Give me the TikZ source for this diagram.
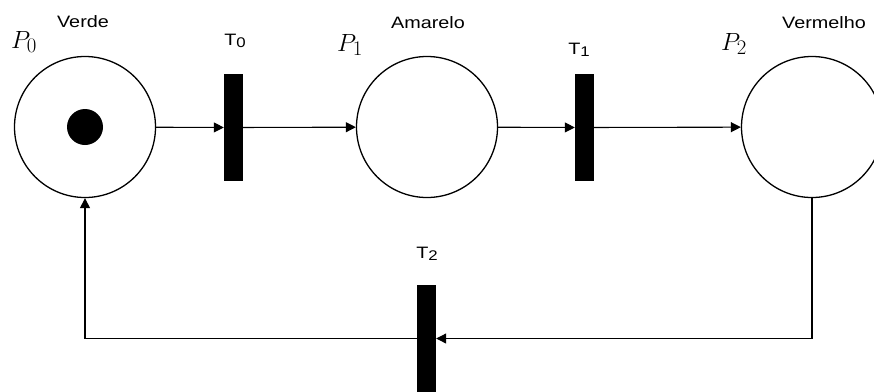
\documentclass[tikz,border=0pt]{standalone}
\usepackage{fontspec}
\newfontfamily\lblfont[FakeStretch=1.2]{Liberation Sans}
\usetikzlibrary{arrows.meta}
\tikzset{
  place/.style={circle,draw,line width=1.3pt,minimum size=141pt,inner sep=0pt},
  trans/.style={rectangle,fill=black,minimum width=19pt,minimum height=107pt,inner sep=0pt},
  arr/.style={line width=1.1pt,-{Triangle[length=10pt,width=10pt]}},
  txtlbl/.style={inner sep=0pt,anchor=base,font=\lblfont\fontsize{16.5}{18}\selectfont},
  plabel/.style={inner sep=0pt,anchor=base west,font=\fontsize{29}{30}\selectfont}
}
\newcommand{\tsub}[1]{\raisebox{-2.5pt}{\fontsize{14}{14}\selectfont #1}}
\begin{document}
\begin{tikzpicture}[x=1pt,y=-1pt]
\useasboundingbox (0,0) rectangle (874,391);
\node[place] (p0) at (85,127) {};
\node[place] (p1) at (427,127) {};
\node[place] (p2) at (812,127) {};
\fill (p0.center) circle (18pt);
\node[trans] (t0) at (233.5,127.5) {};
\node[trans] (t1) at (584.5,127.5) {};
\node[trans] (t2) at (426.5,338.5) {};

\node[plabel] (lp0) at (11,48) {$P_0$};
\node[plabel] (lp1) at (337,51) {$P_1$};
\node[plabel] (lp2) at (721,50) {$P_2$};
\node[txtlbl] (lv) at (83,27) {Verde};
\node[txtlbl] (la) at (428,28) {Amarelo};
\node[txtlbl] (lr) at (824,28) {Vermelho};
\node[txtlbl] (lt0) at (235,45) {T\tsub{0}};
\node[txtlbl] (lt1) at (579,54) {T\tsub{1}};
\node[txtlbl] (lt2) at (427,258) {T\tsub{2}};

\draw[arr] (p0) -- (t0);
\draw[arr] (t0) -- (p1);
\draw[arr] (p1) -- (t1);
\draw[arr] (t1) -- (p2);
\draw[arr] (p2.south) |- (t2.east);
\draw[arr] (t2.west) -| (p0.south);
\end{tikzpicture}
\end{document}
